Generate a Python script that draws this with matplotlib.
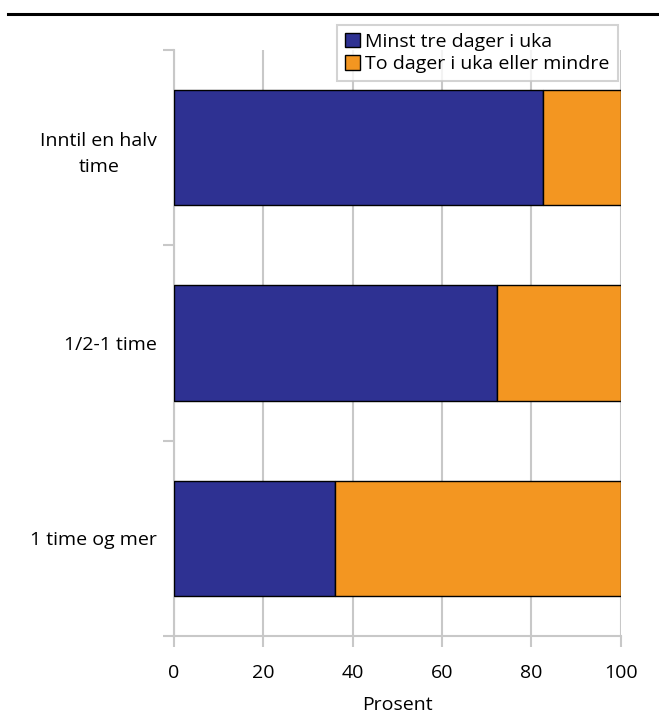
import matplotlib.pyplot as plt
import numpy as np

plt.rcParams['font.family'] = ['Open Sans', 'DejaVu Sans']

categories = ['1 time og mer', '1/2-1 time', 'Inntil en halv\ntime']
minst_tre = [36.0, 72.3, 82.5]
to_dager = [64.0, 27.7, 17.5]
series_names = ['Minst tre dager i uka', 'To dager i uka eller mindre']
xticks = [0, 20, 40, 60, 80, 100]

blue = '#2E3192'
orange = '#F39621'
grey = '#C8C8C8'
fs = 14

fig = plt.figure(figsize=(6.59, 7.28), dpi=100)
ax = fig.add_axes([0.264, 0.1264, 0.678, 0.805])

y = np.arange(len(categories)) + 1
ax.barh(y, minst_tre, height=0.59, color=blue, edgecolor='black', linewidth=1,
        label=series_names[0], zorder=3)
ax.barh(y, to_dager, left=minst_tre, height=0.59, color=orange, edgecolor='black',
        linewidth=1, label=series_names[1], zorder=3)

ax.set_xlim(0, 100)
ax.set_ylim(0.5, 3.5)
ax.set_xticks(xticks)
ax.set_yticks(y)
ax.set_yticklabels(categories, fontsize=fs, multialignment='center', linespacing=1.6)
ax.set_yticks([0.5, 1.5, 2.5, 3.5], minor=True)
ax.tick_params(axis='y', which='major', length=0, pad=12)
ax.tick_params(axis='y', which='minor', length=8, width=1.5, color=grey)
ax.tick_params(axis='x', length=8, width=1.5, color=grey, labelsize=fs, pad=12)
ax.set_xlabel('Prosent', fontsize=fs, labelpad=10)

for s in ['top', 'right']:
    ax.spines[s].set_visible(False)
for s in ['left', 'bottom']:
    ax.spines[s].set_color(grey)
    ax.spines[s].set_linewidth(1.5)

ax.xaxis.grid(True, color=grey, linewidth=1.5, zorder=0)
ax.set_axisbelow(True)

leg = ax.legend(loc='upper right', bbox_to_anchor=(0.993, 1.043), fontsize=fs,
                frameon=True, fancybox=False, handlelength=0.75, handleheight=0.75,
                handletextpad=0.3, borderpad=0.4, labelspacing=0.25,
                borderaxespad=0)
leg.get_frame().set_edgecolor(grey)
leg.get_frame().set_linewidth(1.5)

fig.add_artist(plt.Line2D([0.012, 1.0], [0.981, 0.981], color='black', linewidth=2.2,
                          transform=fig.transFigure))

fig.savefig('out.png', dpi=100)
